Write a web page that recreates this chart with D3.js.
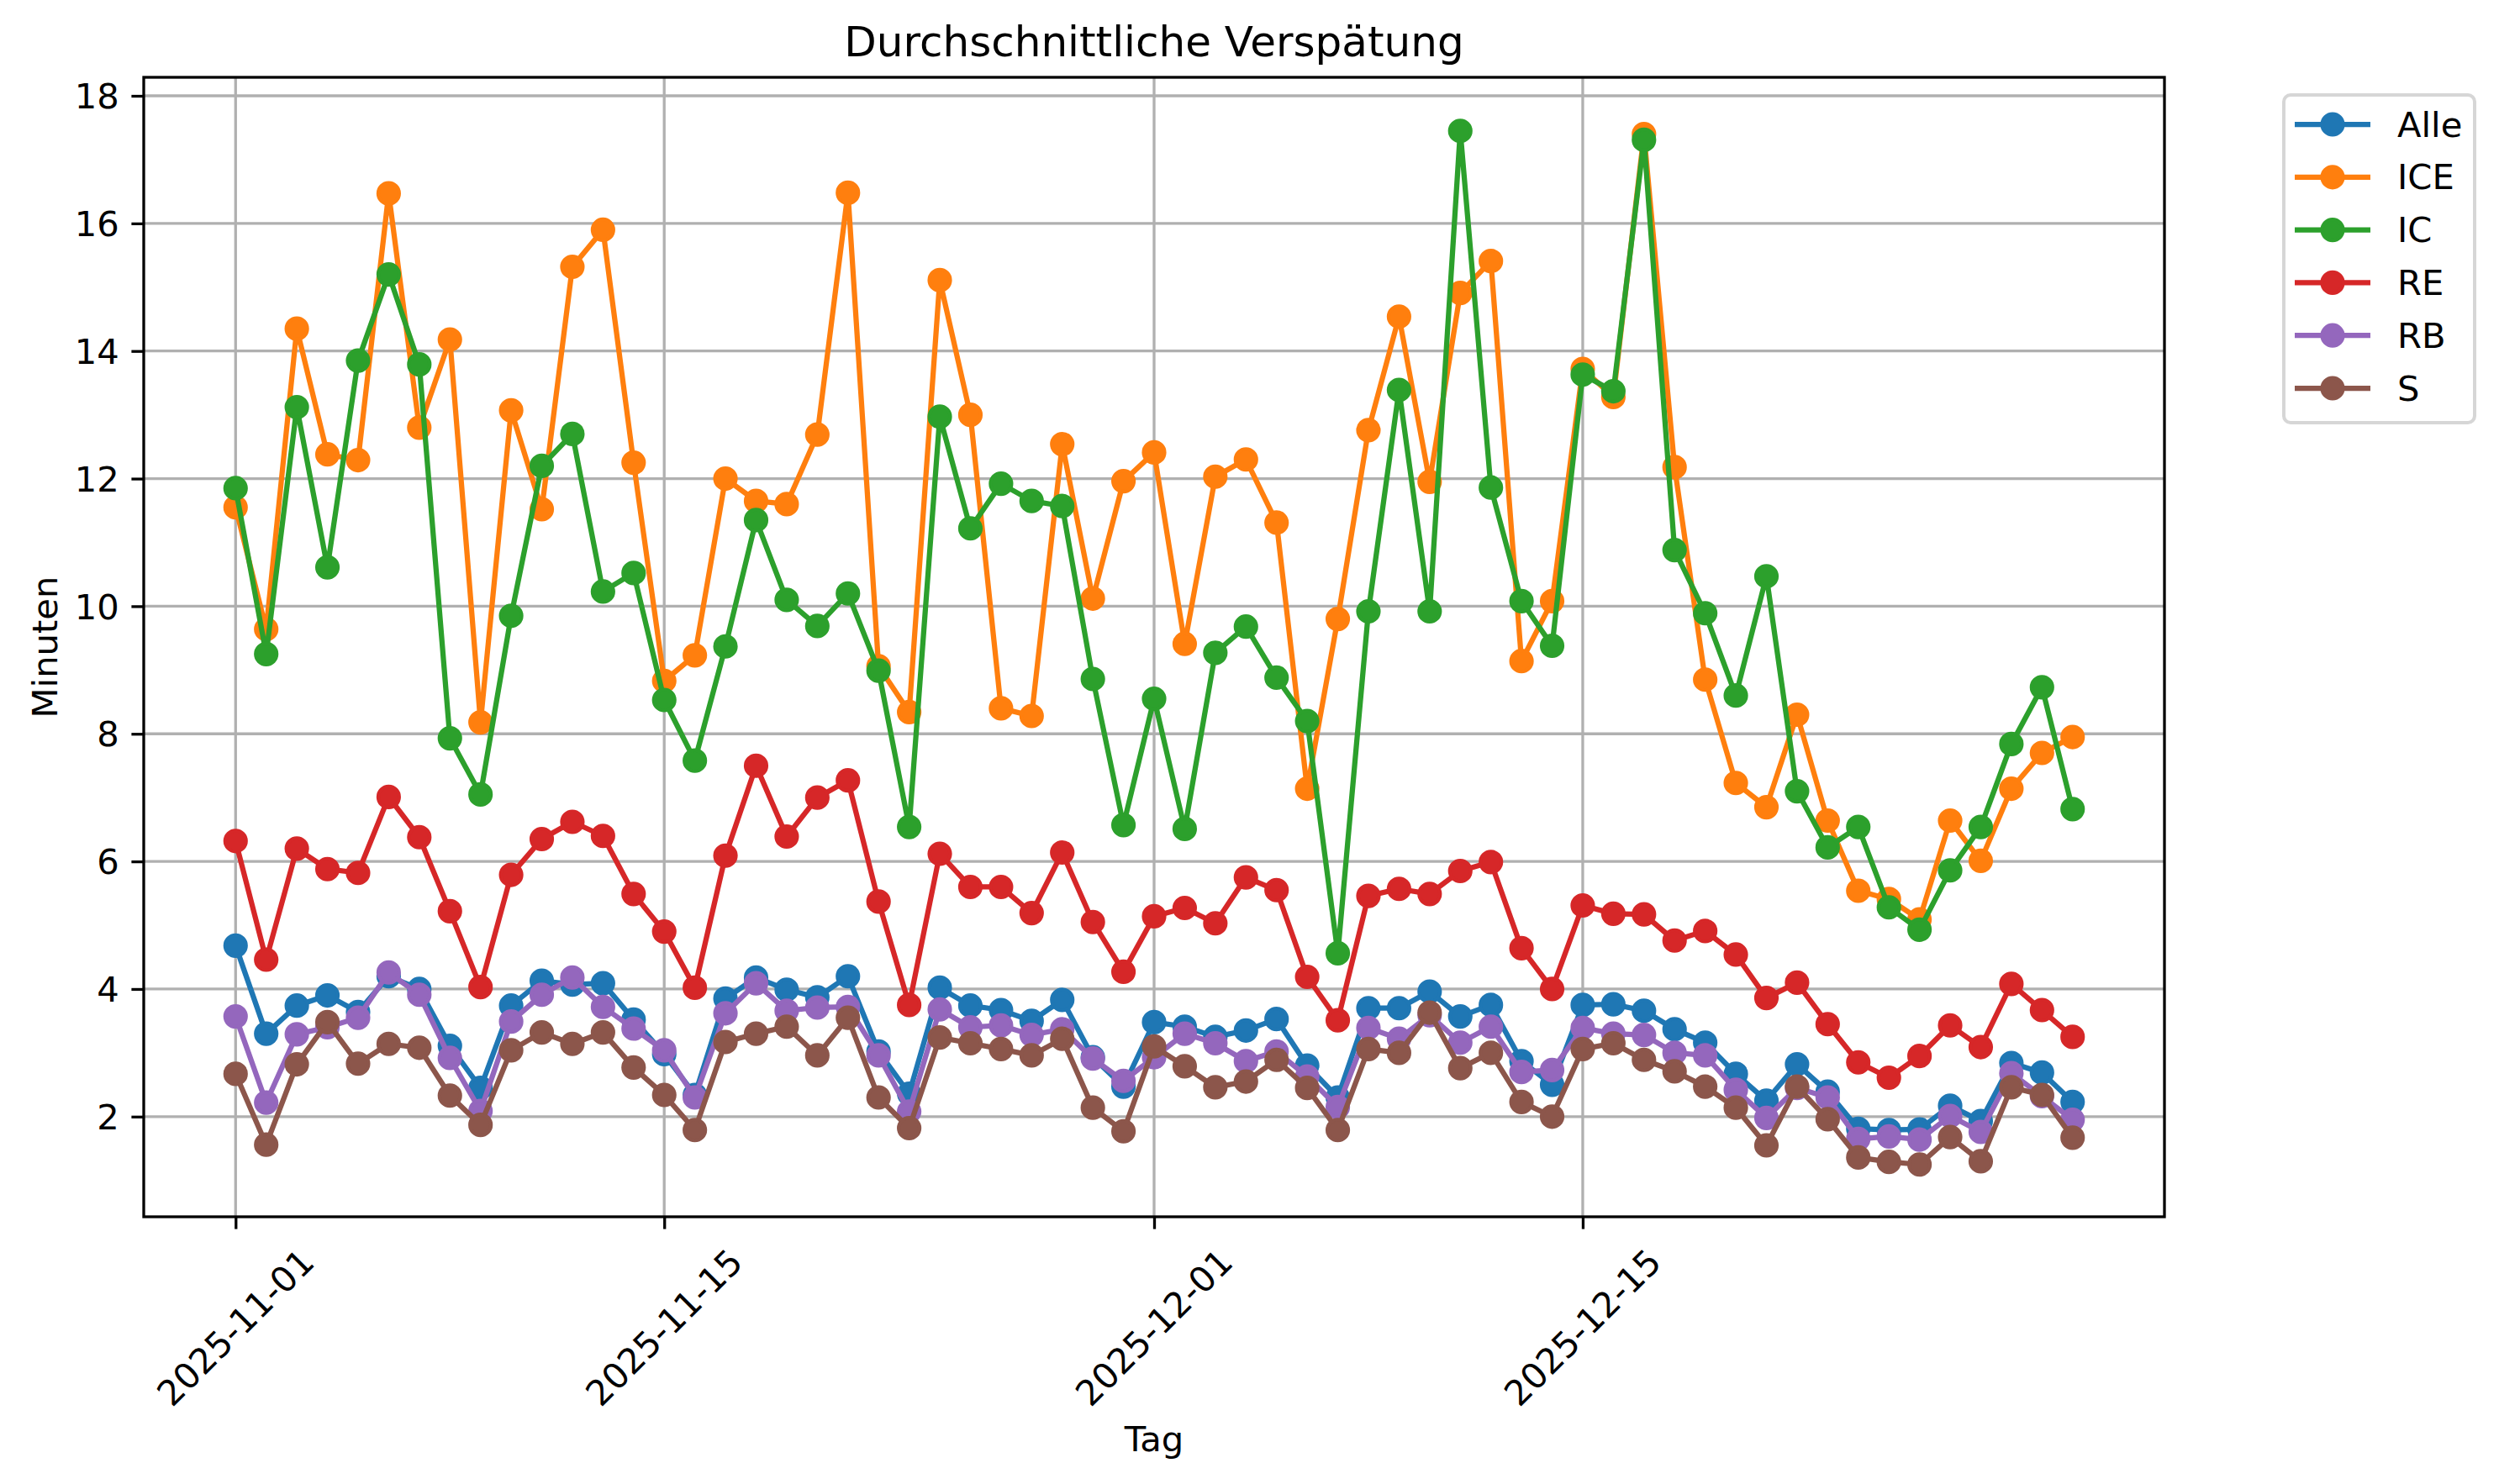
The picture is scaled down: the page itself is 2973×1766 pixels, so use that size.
<!DOCTYPE html>
<html>
<head>
<meta charset="utf-8">
<script src="https://cdn.jsdelivr.net/npm/d3@7"></script>
<style>
  body { margin: 0; background: #fff; }
  text { font-family: 'DejaVu Sans', sans-serif; fill: #000; }
</style>
</head>
<body>
<svg id="chart" width="2973" height="1766"></svg>
<script>
// ===== data (one value per day, 2025-11-01 .. 2025-12-31) =====
var days = d3.utcDay.range(new Date(Date.UTC(2025, 10, 1)), new Date(Date.UTC(2026, 0, 1)))

var alle = [4.68, 3.30, 3.74, 3.90, 3.64, 4.20, 4.00, 3.11, 2.45, 3.74, 4.13, 4.07, 4.09, 3.52, 2.98, 2.34,
  3.85, 4.18, 3.99, 3.87, 4.20, 3.02, 2.36, 4.02, 3.74, 3.67, 3.50, 3.83, 2.93, 2.47, 3.48,
  3.41, 3.25, 3.35, 3.53, 2.80, 2.30, 3.70, 3.70, 3.96, 3.57, 3.75, 2.87, 2.50, 3.75, 3.76,
  3.66, 3.37, 3.16, 2.67, 2.25, 2.82, 2.39, 1.81, 1.79, 1.80, 2.17, 1.93, 2.84, 2.69, 2.23]
var ice = [11.55, 9.64, 14.35, 12.38, 12.29, 16.47, 12.80, 14.18, 8.18, 13.07, 11.52, 15.32, 15.90, 12.25, 8.83, 9.23,
  12.00, 11.65, 11.60, 12.69, 16.48, 9.06, 8.34, 15.11, 13.00, 8.40, 8.28, 12.54, 10.12, 11.96, 12.41,
  9.41, 12.03, 12.30, 11.31, 7.14, 9.80, 12.76, 14.54, 11.95, 14.91, 15.41, 9.14, 10.08, 13.72, 13.28,
  17.40, 12.18, 8.85, 7.23, 6.85, 8.30, 6.64, 5.54, 5.41, 5.09, 6.64, 6.01, 7.14, 7.70, 7.95]
var ic = [11.85, 9.25, 13.12, 10.61, 13.85, 15.20, 13.79, 7.93, 7.05, 9.85, 12.20, 12.70, 10.23, 10.52, 8.53, 7.58,
  9.37, 11.35, 10.10, 9.69, 10.20, 8.99, 6.54, 12.97, 11.22, 11.92, 11.65, 11.57, 8.86, 6.57, 8.55,
  6.51, 9.27, 9.68, 8.88, 8.20, 4.56, 9.92, 13.39, 9.92, 17.45, 11.86, 10.08, 9.38, 13.63, 13.37,
  17.31, 10.88, 9.89, 8.60, 10.47, 7.10, 6.22, 6.54, 5.28, 4.93, 5.86, 6.54, 7.84, 8.73, 6.82]
var re = [6.32, 4.46, 6.20, 5.88, 5.82, 7.01, 6.38, 5.22, 4.03, 5.79, 6.35, 6.62, 6.40, 5.49, 4.90, 4.02,
  6.09, 7.50, 6.39, 7.00, 7.27, 5.37, 3.75, 6.12, 5.60, 5.60, 5.19, 6.14, 5.05, 4.27, 5.14,
  5.27, 5.03, 5.75, 5.55, 4.19, 3.51, 5.46, 5.57, 5.49, 5.85, 5.99, 4.64, 4.00, 5.31, 5.18,
  5.17, 4.76, 4.91, 4.54, 3.86, 4.10, 3.45, 2.85, 2.61, 2.95, 3.43, 3.09, 4.08, 3.67, 3.25]
var rb = [3.57, 2.22, 3.29, 3.40, 3.55, 4.26, 3.91, 2.92, 2.09, 3.49, 3.91, 4.18, 3.72, 3.38, 3.04, 2.30,
  3.62, 4.09, 3.66, 3.71, 3.72, 2.96, 2.08, 3.68, 3.40, 3.43, 3.28, 3.37, 2.91, 2.56, 2.93,
  3.30, 3.15, 2.87, 3.02, 2.63, 2.15, 3.39, 3.22, 3.59, 3.16, 3.41, 2.70, 2.73, 3.39, 3.30,
  3.28, 3.00, 2.96, 2.42, 1.98, 2.45, 2.30, 1.65, 1.69, 1.64, 2.01, 1.76, 2.68, 2.32, 1.95]
var sBahn = [2.67, 1.56, 2.82, 3.48, 2.83, 3.14, 3.08, 2.33, 1.87, 3.04, 3.32, 3.14, 3.32, 2.77, 2.34, 1.79,
  3.17, 3.30, 3.41, 2.96, 3.55, 2.30, 1.82, 3.24, 3.15, 3.06, 2.96, 3.22, 2.14, 1.77, 3.10,
  2.79, 2.46, 2.55, 2.89, 2.45, 1.79, 3.06, 3.00, 3.63, 2.76, 3.00, 2.23, 2.00, 3.06, 3.15,
  2.89, 2.71, 2.47, 2.14, 1.55, 2.47, 1.96, 1.36, 1.29, 1.25, 1.68, 1.30, 2.46, 2.34, 1.67]

var seriesNames = ['Alle', 'ICE', 'IC', 'RE', 'RB', 'S']
var seriesValues = [alle, ice, ic, re, rb, sBahn]
var colors = ['#1f77b4', '#ff7f0e', '#2ca02c', '#d62728', '#9467bd', '#8c564b']

var xTickLabels = ['2025-11-01', '2025-11-15', '2025-12-01', '2025-12-15']
var yTicks = [2, 4, 6, 8, 10, 12, 14, 16, 18]

// ===== layout =====
var plotLeft = 171
var plotRight = 2575
var plotTop = 92
var plotBottom = 1448
var fs = 41.7 // 10pt @ 300dpi
var tickLen = 14.6
var pad = 14.6

var svg = d3.select('#chart')
svg.append('rect').attr('width', 2973).attr('height', 1766).attr('fill', '#fff')

var x = d3.scaleUtc()
  .domain([d3.utcDay.offset(days[0], -3), d3.utcDay.offset(days[days.length - 1], 3)])
  .range([plotLeft, plotRight])
var y = d3.scaleLinear()
  .domain([0.43, 18.29])
  .range([plotBottom, plotTop])

var parseDay = d3.utcParse('%Y-%m-%d')
var xTicks = xTickLabels.map(parseDay)

// grid
var grid = svg.append('g').attr('stroke', '#b0b0b0').attr('stroke-width', 3.3)
grid.selectAll('.gx').data(xTicks).enter().append('line')
  .attr('x1', d => x(d)).attr('x2', d => x(d))
  .attr('y1', plotTop).attr('y2', plotBottom)
grid.selectAll('.gy').data(yTicks).enter().append('line')
  .attr('x1', plotLeft).attr('x2', plotRight)
  .attr('y1', d => y(d)).attr('y2', d => y(d))

// lines + markers, one series after the other
var line = d3.line()
  .x((d, i) => x(days[i]))
  .y(d => y(d))

var plot = svg.append('g')
seriesValues.forEach(function (vals, k) {
  var g = plot.append('g')
  g.append('path')
    .attr('d', line(vals))
    .attr('fill', 'none')
    .attr('stroke', colors[k])
    .attr('stroke-width', 6.25)
    .attr('stroke-linejoin', 'round')
    .attr('stroke-linecap', 'square')
  g.selectAll('circle').data(vals).enter().append('circle')
    .attr('cx', (d, i) => x(days[i]))
    .attr('cy', d => y(d))
    .attr('r', 12.5)
    .attr('fill', colors[k])
    .attr('stroke', colors[k])
    .attr('stroke-width', 4.17)
})

// frame
svg.append('rect')
  .attr('x', plotLeft).attr('y', plotTop)
  .attr('width', plotRight - plotLeft).attr('height', plotBottom - plotTop)
  .attr('fill', 'none').attr('stroke', '#000').attr('stroke-width', 3.3)

// y axis ticks
var yAxis = d3.axisLeft(y).tickValues(yTicks).tickSize(tickLen).tickPadding(pad)
svg.append('g')
  .attr('transform', 'translate(' + plotLeft + ',0)')
  .call(yAxis)
  .call(g => g.select('.domain').remove())
  .call(g => g.selectAll('line').attr('stroke', '#000').attr('stroke-width', 3.3))
  .call(g => g.selectAll('text').attr('font-size', fs).attr('font-family', 'DejaVu Sans').attr('dy', '0.35em'))

// x axis ticks, labels rotated 45 deg, centred under tick
var xAxis = d3.axisBottom(x).tickValues(xTicks).tickSize(tickLen).tickFormat('')
svg.append('g')
  .attr('transform', 'translate(0,' + plotBottom + ')')
  .call(xAxis)
  .call(g => g.select('.domain').remove())
  .call(g => g.selectAll('line').attr('stroke', '#000').attr('stroke-width', 3.3))

xTicks.forEach(function (d, i) {
  var t = svg.append('text')
    .attr('font-size', fs)
    .attr('text-anchor', 'middle')
    .attr('dominant-baseline', 'central')
    .text(xTickLabels[i])
  var w = t.node().getComputedTextLength()
  var h = fs * 1.16
  var cy = plotBottom + tickLen + pad + (w + h) * Math.SQRT1_2 / 2
  t.attr('transform', 'translate(' + x(d) + ',' + cy + ') rotate(-45)')
})

// title and axis labels
svg.append('text')
  .attr('x', (plotLeft + plotRight) / 2).attr('y', 67)
  .attr('text-anchor', 'middle')
  .attr('font-size', 50)
  .text('Durchschnittliche Verspätung')

svg.append('text')
  .attr('x', (plotLeft + plotRight) / 2).attr('y', 1712)
  .attr('text-anchor', 'middle')
  .attr('dominant-baseline', 'central')
  .attr('font-size', fs)
  .text('Tag')

svg.append('text')
  .attr('transform', 'translate(53,' + (plotTop + plotBottom) / 2 + ') rotate(-90)')
  .attr('text-anchor', 'middle')
  .attr('dominant-baseline', 'central')
  .attr('font-size', fs)
  .text('Minuten')

// legend outside the axes, upper left corner
var legend = svg.append('g')
legend.append('rect')
  .attr('x', 2717).attr('y', 113)
  .attr('width', 227).attr('height', 390)
  .attr('rx', 8).attr('ry', 8)
  .attr('fill', '#fff').attr('fill-opacity', 0.8)
  .attr('stroke', '#d6d6d6').attr('stroke-width', 4)

var rows = legend.selectAll('.row').data(seriesNames).enter().append('g')
  .attr('transform', (d, i) => 'translate(0,' + (148 + i * 62.8) + ')')
rows.append('line')
  .attr('x1', 2730).attr('x2', 2820)
  .attr('stroke', (d, i) => colors[i]).attr('stroke-width', 6.25)
rows.append('circle')
  .attr('cx', 2775).attr('r', 12.5)
  .attr('fill', (d, i) => colors[i])
  .attr('stroke', (d, i) => colors[i]).attr('stroke-width', 4.17)
rows.append('text')
  .attr('x', 2852)
  .attr('dominant-baseline', 'central')
  .attr('font-size', fs)
  .text(d => d)
</script>
</body>
</html>
